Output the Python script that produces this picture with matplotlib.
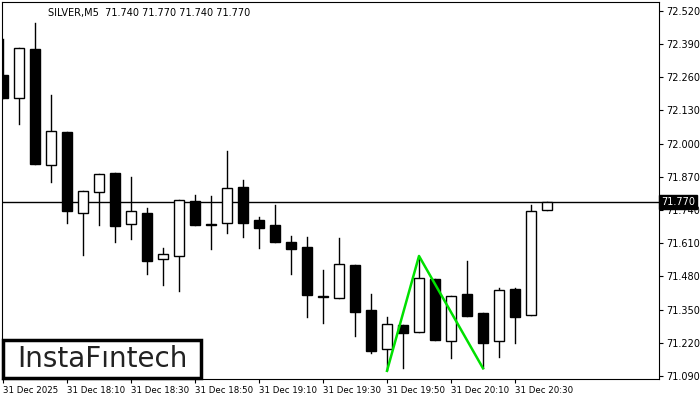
import matplotlib
matplotlib.use("Agg")
import matplotlib.pyplot as plt
from matplotlib.patches import Rectangle

opens  = [72.27,72.18,72.37,71.917,72.046,71.728,71.81,71.885,71.686,71.728,71.548,71.56,71.775,71.685,71.69,71.83,71.701,71.681,71.615,71.595,71.40,71.395,71.525,71.348,71.195,71.29,71.262,71.47,71.227,71.411,71.337,71.227,71.43,71.329,71.74]
highs  = [72.41,72.375,72.473,72.19,72.046,71.815,71.88,71.885,71.87,71.748,71.591,71.78,71.80,71.795,71.971,71.858,71.713,71.76,71.638,71.634,71.505,71.63,71.525,71.41,71.32,71.29,71.552,71.47,71.403,71.54,71.337,71.435,71.435,71.76,71.77]
lows   = [72.18,72.077,71.92,71.85,71.69,71.564,71.68,71.615,71.627,71.49,71.446,71.423,71.682,71.587,71.65,71.634,71.59,71.615,71.49,71.32,71.297,71.395,71.246,71.18,71.113,71.121,71.262,71.231,71.16,71.325,71.12,71.164,71.219,71.329,71.74]
closes = [72.18,72.375,71.92,72.05,71.736,71.815,71.88,71.678,71.736,71.54,71.568,71.78,71.682,71.681,71.826,71.69,71.67,71.615,71.587,71.407,71.40,71.529,71.34,71.188,71.294,71.258,71.474,71.231,71.403,71.325,71.219,71.427,71.32,71.736,71.77]
pattern_idx = [24, 26, 30]
pattern_val = [71.11, 71.56, 71.12]
current_price = 71.77
yticks = [71.090,71.220,71.350,71.480,71.610,71.740,71.870,72.000,72.130,72.260,72.390,72.520]
xtick_idx = [0, 4, 8, 12, 16, 20, 24, 28, 32]
xtick_labels = ["31 Dec 2025","31 Dec 18:10","31 Dec 18:30","31 Dec 18:50","31 Dec 19:10","31 Dec 19:30","31 Dec 19:50","31 Dec 20:10","31 Dec 20:30"]

fig = plt.figure(figsize=(7,4), dpi=100)
ax = fig.add_axes([2/700, 1-379/400, 657/700, 377/400])
ax.set_xlim(-0.0625, 41)
ax.set_ylim(71.078, 72.555)

w = 0.6
for i,(o,h,l,c) in enumerate(zip(opens,highs,lows,closes)):
    ax.plot([i,i],[l,h], color='black', lw=1, zorder=2)
    bot, top = min(o,c), max(o,c)
    ht = max(top-bot, 0.004)
    fc = 'white' if c >= o else 'black'
    ax.add_patch(Rectangle((i-w/2, bot), w, ht, facecolor=fc, edgecolor='black', lw=1, zorder=3))

ax.axhline(current_price, color='black', lw=1, zorder=1)
ax.plot(pattern_idx, pattern_val, color='#00e000', lw=1.8, zorder=4)

ax.yaxis.tick_right()
ax.set_yticks(yticks)
ax.set_yticklabels([f"{v:.3f}" for v in yticks], fontsize=7)
ax.set_xticks(xtick_idx)
ax.set_xticklabels(xtick_labels, fontsize=6.2, ha='left')
ax.tick_params(axis='both', length=3, pad=2)
ax.text(1.003, (current_price-71.078)/(72.555-71.078), f"{current_price:.3f}", transform=ax.transAxes,
        fontsize=7, color='white', va='center', ha='left',
        bbox=dict(facecolor='black', edgecolor='black', pad=1.5), zorder=10, clip_on=False)
ax.text(0.07, 0.985, "SILVER,M5  71.740 71.770 71.740 71.770", transform=ax.transAxes, fontsize=7, va='top', ha='left')

fig.patches.append(Rectangle((3/700, 1-378/400), 198/700, 38/400, transform=fig.transFigure,
                             facecolor='white', edgecolor='black', lw=2.5, zorder=20))
fig.text(102/700, 1-359/400, "InstaFıntech", fontsize=20, fontweight='medium', ha='center', va='center', color='#222222', zorder=21)

fig.savefig("out.png", dpi=100)
